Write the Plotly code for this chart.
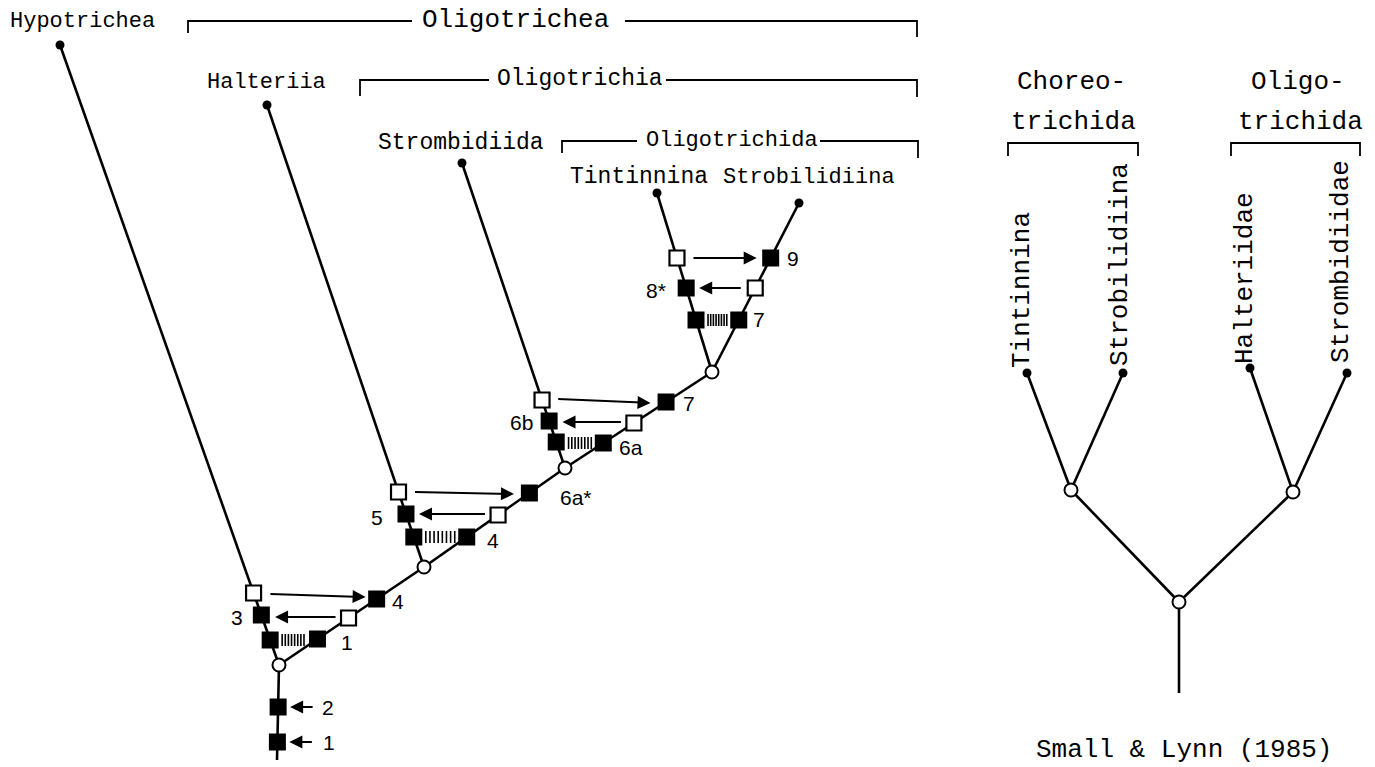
import plotly.graph_objects as go

# ---------------- data (diagram geometry, pixel space, y downward) ----------------
W, H = 1375, 767

# left cladogram nodes
node_names = ["root", "n1", "n2", "n3", "n4", "Hypotrichea", "Halteriia", "Strombidiida", "Tintinnina", "Strobilidiina"]
node_x = [277, 279, 424, 565, 712, 60, 267, 462, 657, 799]
node_y = [760, 665, 567, 468, 372, 45, 105, 163, 193, 203]
edges = [(0, 1), (1, 2), (2, 3), (3, 4), (1, 5), (2, 6), (3, 7), (4, 8), (4, 9)]
inner_nodes = [1, 2, 3, 4]
tip_nodes = [5, 6, 7, 8, 9]

# character markers: (edge index, y position, kind)  kind: 'b' = filled, 'o' = open
char_edge = [0, 0, 4, 4, 4, 1, 1, 1, 5, 5, 5, 2, 2, 2, 6, 6, 6, 3, 3, 3, 7, 7, 7, 8, 8, 8]
char_y = [742, 707, 640, 615, 593, 639, 618, 599, 537, 514, 492, 537, 515, 493, 442, 421, 400, 443, 423, 402, 320, 288, 258, 320, 288, 258]
char_kind = ["b", "b", "b", "b", "o", "b", "o", "b", "b", "b", "o", "b", "o", "b", "b", "b", "o", "b", "o", "b", "b", "b", "o", "b", "o", "b"]

# per level: left edge, right edge, hatch y, right-arrow (tail y, head y), left-arrow (tail y, head y)
lvl_left_edge = [4, 5, 6, 7]
lvl_right_edge = [1, 2, 3, 8]
lvl_hatch_y = [640, 537, 443, 320]
lvl_arrow_r = [(594, 597), (492, 494), (399, 403), (258, 258)]
lvl_arrow_l = [(617, 617), (514, 514), (422, 422), (288, 288)]

# stem arrows
stem_arrow_y = [707, 742]

# character number labels
num_text = ["1", "2", "3", "1", "4", "5", "4", "6a*", "6b", "6a", "7", "8*", "7", "9"]
num_x = [329, 328, 237, 347, 398, 377, 493, 576, 521, 631, 689, 656, 759, 793]
num_y = [742, 707, 617, 642, 601, 517, 540, 497, 422, 447, 403, 290, 319, 258]

# taxon labels (left)
tax_text = ["Hypotrichea", "Halteriia", "Strombidiida", "Tintinnina", "Strobilidiina"]
tax_x = [82, 266, 461, 639, 809]
tax_y = [21, 82, 143, 177, 177]
tax_size = [22, 22, 23, 23, 22]

# brackets (left)
br_text = ["Oligotrichea", "Oligotrichia", "Oligotrichida"]
br_x0 = [188, 360, 562]
br_x1 = [917, 917, 918]
br_y = [21, 80, 141]
br_gap0 = [412, 489, 637]
br_gap1 = [625, 666, 820]
br_tick0 = [33, 96, 153]
br_tick1 = [37, 97, 158]
br_lx = [515, 580, 732]
br_size = [26, 23, 22]

# right cladogram (Small & Lynn 1985)
r_node_x = [1179, 1179, 1071, 1293, 1027, 1123, 1250, 1347]
r_node_y = [693, 602, 490, 492, 373, 373, 368, 373]
r_edges = [(0, 1), (1, 2), (1, 3), (2, 4), (2, 5), (3, 6), (3, 7)]
r_inner = [1, 2, 3]
r_tips = [4, 5, 6, 7]
r_tip_text = ["Tintinnina", "Strobilidiina", "Halteriidae", "Strombidiidae"]
r_tip_lx = [1022, 1120, 1245, 1341]
r_tip_ly = [290, 265, 278, 262]
r_grp_text = [["Choreo-", "trichida"], ["Oligo-", "trichida"]]
r_grp_x = [1071, 1298]
r_grp_y = [82, 122]
r_br_x0 = [1008, 1231]
r_br_x1 = [1138, 1360]
r_br_y = 143
r_br_tick = 156
credit = "Small & Lynn (1985)"
credit_xy = (1184, 750)

MONO = "Liberation Mono"
SANS = "Liberation Sans"

# ---------------- helpers ----------------
def x_on_edge(e, y):
    a, b = edges[e]
    x0, y0, x1, y1 = node_x[a], node_y[a], node_x[b], node_y[b]
    t = (y - y0) / (y1 - y0)
    return x0 + t * (x1 - x0)

fig = go.Figure()

# tree branches
lx, ly = [], []
for a, b in edges:
    lx += [node_x[a], node_x[b], None]
    ly += [node_y[a], node_y[b], None]
for a, b in r_edges:
    lx += [r_node_x[a], r_node_x[b], None]
    ly += [r_node_y[a], r_node_y[b], None]
fig.add_trace(go.Scatter(x=lx, y=ly, mode="lines", line=dict(color="black", width=2.6), hoverinfo="skip"))

# hatches
hx, hy = [], []
for i in range(4):
    xl = x_on_edge(lvl_left_edge[i], lvl_hatch_y[i]) + 12
    xr = x_on_edge(lvl_right_edge[i], lvl_hatch_y[i]) - 12
    n = 8
    for k in range(n):
        xx = xl + (xr - xl) * k / (n - 1)
        hx += [xx, xx, None]
        hy += [lvl_hatch_y[i] - 6, lvl_hatch_y[i] + 6, None]
fig.add_trace(go.Scatter(x=hx, y=hy, mode="lines", line=dict(color="black", width=1.6), hoverinfo="skip"))

# tip dots
tx = [node_x[i] for i in tip_nodes] + [r_node_x[i] for i in r_tips]
ty = [node_y[i] for i in tip_nodes] + [r_node_y[i] for i in r_tips]
fig.add_trace(go.Scatter(x=tx, y=ty, mode="markers", marker=dict(color="black", size=9, symbol="circle"), hoverinfo="skip"))

# inner node circles
cx = [node_x[i] for i in inner_nodes] + [r_node_x[i] for i in r_inner]
cy = [node_y[i] for i in inner_nodes] + [r_node_y[i] for i in r_inner]
fig.add_trace(go.Scatter(x=cx, y=cy, mode="markers",
                         marker=dict(color="white", size=13, symbol="circle", line=dict(color="black", width=2)),
                         hoverinfo="skip"))

# character squares
bx = [x_on_edge(e, y) for e, y, k in zip(char_edge, char_y, char_kind) if k == "b"]
by = [y for e, y, k in zip(char_edge, char_y, char_kind) if k == "b"]
ox = [x_on_edge(e, y) for e, y, k in zip(char_edge, char_y, char_kind) if k == "o"]
oy = [y for e, y, k in zip(char_edge, char_y, char_kind) if k == "o"]
fig.add_trace(go.Scatter(x=bx, y=by, mode="markers",
                         marker=dict(color="black", size=17, symbol="square", line=dict(color="black", width=0)),
                         hoverinfo="skip"))
fig.add_trace(go.Scatter(x=ox, y=oy, mode="markers",
                         marker=dict(color="white", size=15, symbol="square", line=dict(color="black", width=2.2)),
                         hoverinfo="skip"))

annotations = []

def arrow(x_tail, y_tail, x_head, y_head):
    annotations.append(dict(x=x_head, y=y_head, ax=x_tail, ay=y_tail, xref="x", yref="y", axref="x", ayref="y",
                            text="", showarrow=True, arrowhead=2, arrowsize=1.3, arrowwidth=2,
                            arrowcolor="black", standoff=0, startstandoff=0))

for i in range(4):
    yl0, yr0 = lvl_arrow_r[i]
    arrow(x_on_edge(lvl_left_edge[i], yl0) + 15, yl0, x_on_edge(lvl_right_edge[i], yr0) - 14, yr0)
    yr1, yl1 = lvl_arrow_l[i]
    arrow(x_on_edge(lvl_right_edge[i], yr1) - 13, yr1, x_on_edge(lvl_left_edge[i], yl1) + 13, yl1)

for y in stem_arrow_y:
    xs = x_on_edge(0, y)
    arrow(xs + 36, y, xs + 12, y)

def text(s, x, y, size, font=MONO, angle=0, xanchor="center"):
    annotations.append(dict(x=x, y=y, xref="x", yref="y", text=s, showarrow=False, textangle=angle,
                            xanchor=xanchor, yanchor="middle",
                            font=dict(family=font, size=size, color="black")))

for s, x, y in zip(num_text, num_x, num_y):
    text(s, x, y, 21, SANS)
for s, x, y, sz in zip(tax_text, tax_x, tax_y, tax_size):
    text(s, x, y, sz)

# brackets
bl_x, bl_y = [], []
for i in range(3):
    bl_x += [br_x0[i], br_x0[i], br_gap0[i], None, br_gap1[i], br_x1[i], br_x1[i], None]
    bl_y += [br_tick0[i], br_y[i], br_y[i], None, br_y[i], br_y[i], br_tick1[i], None]
    text(br_text[i], br_lx[i], br_y[i] - 1, br_size[i])
for i in range(2):
    bl_x += [r_br_x0[i], r_br_x0[i], r_br_x1[i], r_br_x1[i], None]
    bl_y += [r_br_tick, r_br_y, r_br_y, r_br_tick, None]
    for j in range(2):
        text(r_grp_text[i][j], r_grp_x[i] + (2 * j), r_grp_y[j], 26)
fig.add_trace(go.Scatter(x=bl_x, y=bl_y, mode="lines", line=dict(color="black", width=1.8), hoverinfo="skip"))

for s, x, y in zip(r_tip_text, r_tip_lx, r_tip_ly):
    text(s, x, y, 26, angle=-90)
text(credit, credit_xy[0], credit_xy[1], 26)

fig.update_layout(
    width=W, height=H, autosize=False,
    margin=dict(l=0, r=0, t=0, b=0),
    paper_bgcolor="white", plot_bgcolor="white",
    showlegend=False,
    annotations=annotations,
    xaxis=dict(range=[0, W], visible=False, fixedrange=True),
    yaxis=dict(range=[H, 0], visible=False, fixedrange=True),
)

fig.write_html("out.html", config={"displayModeBar": False},
               post_script="document.body.style.margin='0';document.body.style.overflow='hidden';")
